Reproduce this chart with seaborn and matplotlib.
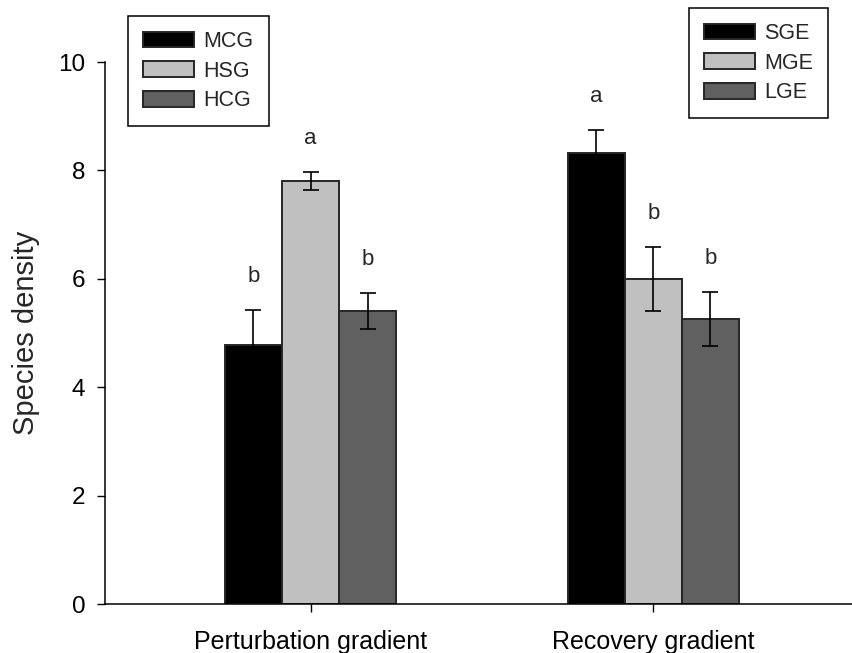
import matplotlib
matplotlib.use("Agg")
import matplotlib.pyplot as plt
from matplotlib.patches import Patch
import seaborn as sns
import pandas as pd

sns.set_theme(style="ticks")
plt.rcParams["font.family"] = ["Liberation Sans", "DejaVu Sans"]

# Data
gradients = ["Perturbation gradient", "Recovery gradient"]
perturbation_labels = ["MCG", "HSG", "HCG"]
recovery_labels = ["SGE", "MGE", "LGE"]
perturbation_means = [4.78, 7.80, 5.41]
perturbation_se = [0.64, 0.17, 0.33]
recovery_means = [8.32, 6.00, 5.26]
recovery_se = [0.42, 0.59, 0.50]
perturbation_letters = ["b", "a", "b"]
recovery_letters = ["a", "b", "b"]

bar_colors = ["#000000", "#c0c0c0", "#606060"]

rows = []
for grad, labels, means, ses, letters in [
    (gradients[0], perturbation_labels, perturbation_means, perturbation_se, perturbation_letters),
    (gradients[1], recovery_labels, recovery_means, recovery_se, recovery_letters),
]:
    for rank, (lab, m, s, l) in enumerate(zip(labels, means, ses, letters)):
        rows.append({"gradient": grad, "level": rank, "label": lab,
                     "density": m, "se": s, "letter": l})
df = pd.DataFrame(rows)

fig = plt.figure(figsize=(8.53, 6.53), dpi=100)
ax = fig.add_axes([0.123, 0.075, 0.876, 0.830])

sns.barplot(data=df, x="gradient", y="density", hue="level",
            palette=bar_colors, width=0.5, dodge=True, errorbar=None,
            edgecolor="#262626", linewidth=1.4, saturation=1, ax=ax,
            legend=False)

# Error bars and significance letters placed on the drawn bars
bars = sorted(ax.patches, key=lambda p: p.get_x())
for bar, (_, r) in zip(bars, df.sort_values(["gradient", "level"]).iterrows()):
    cx = bar.get_x() + bar.get_width() / 2
    ax.errorbar(cx, r["density"], yerr=r["se"], fmt="none", ecolor="black",
                elinewidth=1.2, capsize=6, capthick=1.2, zorder=3)
    ax.text(cx, r["density"] + r["se"] + 0.62, r["letter"], ha="center",
            va="center", fontsize=16)

ax.set_ylim(0, 10)
ax.set_xlim(-0.6, 1.58)
ax.set_yticks([0, 2, 4, 6, 8, 10])
ax.set_ylabel("Species density", fontsize=21, labelpad=13)
ax.set_xlabel("")
ax.tick_params(axis="both", labelsize=17.5, direction="out", length=6,
               width=1, color="black", labelcolor="black")
ax.tick_params(axis="x", labelsize=18, pad=12.5)
ax.tick_params(axis="y", pad=8)
for side in ["top", "right"]:
    ax.spines[side].set_visible(False)
for side in ["left", "bottom"]:
    ax.spines[side].set_color("black")
    ax.spines[side].set_linewidth(1.1)

legend_kw = dict(loc="upper left", fontsize=15.5, frameon=True, fancybox=False,
                 edgecolor="black", framealpha=1, handlelength=2.35,
                 handleheight=0.75, labelspacing=0.4, borderpad=0.7,
                 handletextpad=0.45, borderaxespad=0)

h1 = [Patch(facecolor=c, edgecolor="#262626", linewidth=1.4) for c in bar_colors]
leg1 = fig.legend(h1, perturbation_labels,
                  bbox_to_anchor=(128 / 853, 1 - 16 / 653), **legend_kw)
leg1.get_frame().set_linewidth(1.1)
h2 = [Patch(facecolor=c, edgecolor="#262626", linewidth=1.4) for c in bar_colors]
leg2 = fig.legend(h2, recovery_labels,
                  bbox_to_anchor=(689 / 853, 1 - 8 / 653), **legend_kw)
leg2.get_frame().set_linewidth(1.1)

fig.savefig("out.png", dpi=100)
